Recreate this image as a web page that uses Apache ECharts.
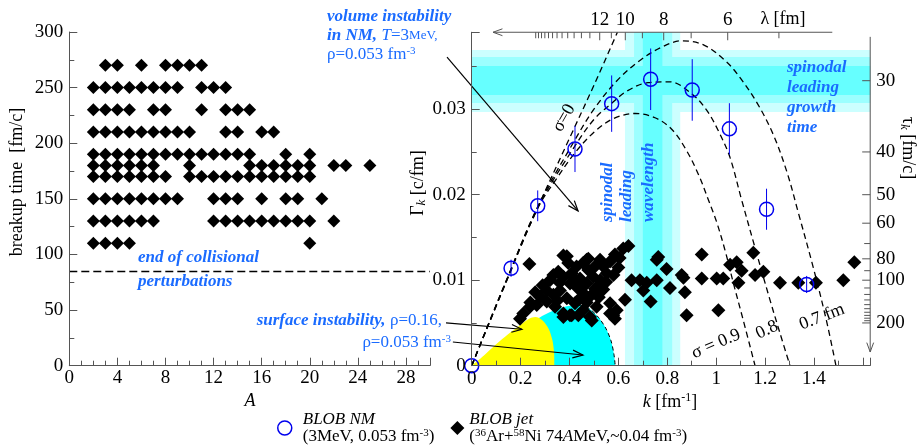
<!DOCTYPE html>
<html><head><meta charset="utf-8">
<script src="https://cdn.jsdelivr.net/npm/echarts@6/dist/echarts.min.js"></script>
<style>html,body{margin:0;padding:0;background:#fff}#c{width:918px;height:448px}</style>
</head><body><div id="c"></div>
<script>
// ---------------- data ----------------
// left panel: breakup time rows and fragment sizes A present in each row
const leftTimes = [270, 250, 230, 210, 190, 180, 170, 150, 130, 110];
const leftA = [
  [3,4,6,8,9,10,11],
  [2,3,4,5,6,7,8,9,11,12,13],
  [2,3,4,5,7,8,11,13,14,15],
  [2,3,4,5,6,7,8,9,10,13,14,16,17],
  [2,3,4,5,6,7,8,9,10,11,12,13,14,15,18,20],
  [2,3,4,5,6,7,10,15,16,17,18,19,20,22,23,25],
  [2,3,4,5,6,7,8,10,11,12,13,14,15,16,17,18,19,20],
  [2,3,4,5,6,7,8,9,12,13,14,16,18,19,21],
  [2,3,4,5,6,7,12,13,14,15,16,17,18,19,20,22],
  [2,3,4,5,20]
];
const collisionEnd = 85;

// right panel: BLOB NM growth rates
const nmK   = [0, 0.161, 0.27, 0.4225, 0.5725, 0.732, 0.902, 1.054, 1.206, 1.37];
const nmG   = [0, 0.0114, 0.0187, 0.02535, 0.03065, 0.0335, 0.03225, 0.0277, 0.0183, 0.0095];
const nmErr = [0, 0.001, 0.0018, 0.0027, 0.0033, 0.0036, 0.0036, 0.003, 0.0024, 0.001];

// right panel: BLOB jet (k, Gamma)
const jetRight = [
  [0.236,0.0119],[0.375,0.0129],[0.389,0.0128],[0.395,0.0120],[0.456,0.0120],[0.477,0.0125],[0.470,0.0124],
  [0.620,0.0137],[0.641,0.0140],[0.586,0.0130],[0.566,0.0122],[0.538,0.0116],[0.525,0.0124],[0.504,0.0116],
  [0.477,0.0112],[0.429,0.0116],[0.409,0.0108],[0.354,0.0110],[0.334,0.0106],[0.375,0.0104],[0.443,0.0102],
  [0.470,0.0096],[0.497,0.0104],[0.525,0.0100],[0.552,0.0108],[0.504,0.0090],[0.484,0.0081],[0.456,0.0085],
  [0.429,0.0092],[0.402,0.0096],[0.361,0.0088],[0.334,0.0083],[0.320,0.0100],[0.307,0.0088],[0.389,0.0079],
  [0.4225,0.0073],[0.456,0.0065],[0.484,0.0057],[0.436,0.0059],[0.402,0.0059],[0.375,0.0061],[0.341,0.0069],
  [0.307,0.0075],[0.279,0.0081],[0.266,0.0071],[0.2385,0.0069],[0.240,0.0074],[0.211,0.0061],[0.1975,0.0055],
  [0.375,0.0057],[0.409,0.0059],[0.491,0.0053],[0.511,0.0069],[0.538,0.0089],[0.566,0.0073],[0.566,0.0061],
  [0.593,0.0065],[0.579,0.0059],[0.586,0.0055],
  [0.36,0.0097],[0.42,0.0101],[0.45,0.0093],[0.52,0.0094],[0.55,0.0098],[0.58,0.0106],[0.60,0.0115],
  [0.605,0.0126],[0.44,0.0078],[0.47,0.0074],[0.52,0.0080],[0.35,0.0076],[0.29,0.0094],[0.26,0.0086],
  [0.627,0.0077],[0.654,0.0100],[0.688,0.0100],[0.702,0.0088],[0.716,0.0097],[0.732,0.0075],[0.757,0.0100],
  [0.757,0.0124],[0.763,0.0127],[0.797,0.0113],[0.811,0.0091],[0.859,0.0106],[0.866,0.0103],[0.872,0.0086],
  [0.879,0.0059],
  [0.941,0.0130],[0.941,0.0102],[1.002,0.0102],[1.029,0.0102],[1.009,0.0065],[1.057,0.0118],[1.084,0.0121],
  [1.104,0.0111],[1.091,0.0097],[1.152,0.0132],[1.159,0.0106],[1.193,0.0110],[1.261,0.0097],[1.336,0.0097],
  [1.408,0.0097],[1.52,0.0100],[1.565,0.0121]
];

// dispersion curves Gamma(k)
const sigma0  = [[0,0],[0.08,0.0057],[0.161,0.0113],[0.27,0.0185],[0.4,0.0266],[0.5,0.0328],[0.596,0.039]];
const sigma07 = [[0,0],[0.14,0.0098],[0.27,0.0186],[0.42,0.0263],[0.5,0.0300],[0.593,0.0333],[0.688,0.0357],
  [0.78,0.0373],[0.859,0.0380],[0.95,0.0375],[1.04,0.0356],[1.10,0.0336],[1.17,0.0306],[1.234,0.0270],
  [1.29,0.0226],[1.335,0.0180],[1.397,0.0115],[1.45,0.0054],[1.49,0]];
const sigma08 = [[0,0],[0.14,0.0098],[0.27,0.0185],[0.42,0.0256],[0.5,0.0288],[0.5725,0.0307],[0.634,0.0321],
  [0.72,0.0331],[0.811,0.0332],[0.9,0.0318],[0.961,0.0299],[1.01,0.0274],[1.056,0.0244],[1.104,0.0194],
  [1.16,0.0137],[1.22,0.0077],[1.26,0.0039],[1.302,0]];
const sigma09 = [[0,0],[0.14,0.0097],[0.27,0.0184],[0.35,0.0220],[0.4225,0.0249],[0.5,0.0273],[0.58,0.0289],
  [0.668,0.0295],[0.75,0.0290],[0.82,0.0276],[0.88,0.0251],[0.93,0.0222],[0.968,0.0194],[1.002,0.0168],
  [1.04,0.0131],[1.07,0.0097],[1.11,0.0054],[1.159,0]];
// surface instability regions
const surfYellow = [[0,0],[0.05,0.0012],[0.1,0.0025],[0.15,0.0037],[0.2,0.0048],[0.235,0.0055],[0.26,0.0057],
  [0.29,0.0053],[0.315,0.0043],[0.33,0.0030],[0.337,0.0015],[0.338,0]];
const surfCyan = [[0,0],[0.1,0.0021],[0.2,0.0042],[0.3,0.0060],[0.38,0.0069],[0.44,0.0071],[0.48,0.0067],
  [0.52,0.0056],[0.55,0.0043],[0.57,0.0029],[0.582,0.0013],[0.587,0]];

// spinodal leading bands: wavelength (k range) and growth time (Gamma range), light -> dark
const bandK = [[0.627,0.853],[0.664,0.82],[0.70,0.78]];
const bandG = [[0.02967,0.03692],[0.03073,0.0361],[0.03167,0.03505]];

// secondary axes tick labels
const tauMajor = [30, 40, 50, 60, 80, 100, 200];
const tauMinor = [70, 90, 110, 120, 130, 140, 150, 160, 170, 180, 190];
const tauAxisEnds = [26, 625];
const lambdaMajor = [12, 10, 8, 6];
const lambdaMinor = [24,23,22,21,20,19,18,17,16,15,14,13,11,9,7,5];
const lambdaAxisEnds = [72, 4.26];

// annotation arrows [k1, G1, k2, G2]
const arrows = [
  [-0.101, 0.0361, 0.435, 0.0181],
  [-0.105, 0.0050, 0.2053, 0.00426],
  [-0.077, 0.00277, 0.455, 0.00125]
];

// ---------------- chart ----------------
const XMAX = 1.63, YMAX = 0.039;
const SERIF = 'Liberation Serif';
const BLUE = '#1a6bff';
const NMBLUE = '#0000ee';
const AX = '#555';

function st(o){ const r = Object.assign({fontFamily: SERIF}, o); if (o.fill) r.color = o.fill; return r; }
function richSet(color, size, lh){
  return {
    bi: st({fontSize:size, fontStyle:'italic', fontWeight:'bold', fill:color, lineHeight:lh}),
    it: st({fontSize:size, fontStyle:'italic', fill:color, lineHeight:lh}),
    i: st({fontSize:size, fontStyle:'italic', fill:color, lineHeight:lh}),
    n:  st({fontSize:size, fill:color, lineHeight:lh}),
    sm: st({fontSize:size-4, fill:color, lineHeight:lh}),
    sub: st({fontSize:size-5, fontStyle:'italic', fill:color, lineHeight:12, verticalAlign:'bottom'}),
    sup: st({fontSize:size-6, fill:color, lineHeight:10, verticalAlign:'top'})
  };
}
const rB19 = richSet(BLUE, 17, 19);
const rB24 = richSet(BLUE, 17, 24);
const rB20 = richSet(BLUE, 17, 20);
const rK = richSet('#000', 18, 20);

function txt(x, y, text, rich, opt){
  opt = opt || {};
  return {type:'text', x:x, y:y, rotation: opt.rot || 0, z:100, silent:true,
    style:{text:text, rich:rich, fill: opt.fill || '#000', fontFamily:SERIF, fontSize:18,
      align: opt.align || 'left', verticalAlign: opt.va || 'top',
      textAlign: opt.align || 'left', textVerticalAlign: opt.va || 'top'}};
}

const jetLeft = [];
leftTimes.forEach((t, i) => leftA[i].forEach(a => jetLeft.push([a, t])));

const nmData = nmK.map((k, i) => [k, nmG[i]]);
const errData = nmK.map((k, i) => [k, nmG[i] - nmErr[i], nmG[i] + nmErr[i]]).filter((d, i) => nmErr[i] > 0);

const bandData = [];
for (let i = 0; i < 3; i++) {
  bandData.push([0, bandG[i][0], XMAX, bandG[i][1], i]);
  bandData.push([bandK[i][0], 0, bandK[i][1], YMAX, i]);
}
const bandColors = ['#ccffff', '#9cffff', '#66ffff'];

const tauData = tauMajor.map(t => [XMAX, 1 / t, 1, t]).concat(tauMinor.map(t => [XMAX, 1 / t, 0, t]));
const lamData = lambdaMajor.map(l => [2 * Math.PI / l, YMAX, 1, l]).concat(lambdaMinor.map(l => [2 * Math.PI / l, YMAX, 0, l]));
const secLines = [
  [XMAX, 1 / tauAxisEnds[0], XMAX, 1 / tauAxisEnds[1]],
  [2 * Math.PI / lambdaAxisEnds[1], YMAX, 2 * Math.PI / lambdaAxisEnds[0], YMAX]
];

function arrowShape(a, b, L, w){
  const ang = Math.atan2(b[1] - a[1], b[0] - a[0]);
  return [[b[0] - L * Math.cos(ang - w), b[1] - L * Math.sin(ang - w)], b,
          [b[0] - L * Math.cos(ang + w), b[1] - L * Math.sin(ang + w)]];
}

const axisLabelStyle = {color:'#000', fontFamily:SERIF, fontSize:19};
const fmt = v => String(parseFloat(v.toFixed(3)));

const curveStyle = {type:[6,4], color:'#000', width:1.3};
function curve(data){
  return {type:'line', xAxisIndex:1, yAxisIndex:1, data:data, smooth:0.35, showSymbol:false, symbol:'none',
    lineStyle:curveStyle, z:3, silent:true};
}

const option = {
  animation:false,
  backgroundColor:'#fff',
  textStyle:{fontFamily:SERIF},
  grid:[
    {left:69.3, top:32, width:360.7, height:333.7},
    {left:471.7, top:32.25, width:398.5, height:333.45}
  ],
  xAxis:[
    {type:'value', gridIndex:0, min:0, max:30, interval:4, z:10,
     axisLine:{lineStyle:{color:AX}}, axisTick:{inside:true, length:8, lineStyle:{color:AX}},
     minorTick:{show:true, splitNumber:4, length:5, lineStyle:{color:AX}},
     splitLine:{show:false}, minorSplitLine:{show:false},
     axisLabel:Object.assign({margin:3, formatter:v => v >= 30 ? '' : String(v)}, axisLabelStyle)},
    {type:'value', gridIndex:1, min:0, max:XMAX, interval:0.2, z:10,
     axisLine:{lineStyle:{color:AX}}, axisTick:{inside:true, length:8, lineStyle:{color:AX}},
     minorTick:{show:true, splitNumber:2, length:5, lineStyle:{color:AX}},
     splitLine:{show:false}, minorSplitLine:{show:false},
     axisLabel:Object.assign({margin:4, formatter:v => v > 1.5 ? '' : fmt(v)}, axisLabelStyle)}
  ],
  yAxis:[
    {type:'value', gridIndex:0, min:0, max:300, interval:50, z:10,
     axisLine:{show:true, lineStyle:{color:AX}}, axisTick:{show:true, inside:true, length:8, lineStyle:{color:AX}},
     minorTick:{show:true, splitNumber:2, length:5, lineStyle:{color:AX}},
     splitLine:{show:false}, minorSplitLine:{show:false},
     axisLabel:Object.assign({margin:6}, axisLabelStyle)},
    {type:'value', gridIndex:1, min:0, max:YMAX, interval:0.01, z:10,
     axisLine:{show:true, lineStyle:{color:AX}}, axisTick:{show:true, inside:true, length:8, lineStyle:{color:AX}},
     minorTick:{show:true, splitNumber:2, length:5, lineStyle:{color:AX}},
     splitLine:{show:false}, minorSplitLine:{show:false},
     axisLabel:Object.assign({margin:6, formatter:v => v > 0.035 ? '' : fmt(v)}, axisLabelStyle)}
  ],
  legend:{
    left:277, top:411, padding:0, orient:'horizontal', itemWidth:14, itemHeight:14, itemGap:16, selectedMode:false,
    data:[
      {name:'BLOB NM', icon:'circle', itemStyle:{color:'rgba(0,0,0,0)', borderColor:NMBLUE, borderWidth:1.5}},
      {name:'BLOB jet', icon:'diamond', itemStyle:{color:'#000', opacity:1}, textStyle:{padding:0}}
    ],
    formatter: name => name === 'BLOB NM'
      ? '{i|BLOB NM}\n{n|(3MeV, 0.053 fm}{sup|-3}{n|)}'
      : '{i|BLOB jet}\n{n|(}{sup|36}{n|Ar+}{sup|58}{n|Ni 74}{i|A}{n|MeV,~0.04 fm}{sup|-3}{n|)}',
    textStyle:{fontFamily:SERIF, fontSize:17, color:'#000', padding:[0,0,0,6], rich:{
      i:st({fontSize:17, fontStyle:'italic', fill:'#000', lineHeight:17}),
      n:st({fontSize:17, fill:'#000', lineHeight:17}),
      sup:st({fontSize:11, fill:'#000', lineHeight:9, verticalAlign:'top'})
    }}
  },
  series:[
    {name:'BLOB jet', type:'scatter', xAxisIndex:0, yAxisIndex:0, data:jetLeft, symbol:'diamond', symbolSize:13,
     itemStyle:{color:'#000', opacity:1}, z:4, silent:true,
     markLine:{silent:true, symbol:['none','none'], label:{show:false},
       lineStyle:{type:[8,4], color:'#000', width:1.4}, data:[{yAxis:collisionEnd}]}},
    {name:'bands', type:'custom', xAxisIndex:1, yAxisIndex:1, data:bandData, z:1, silent:true, clip:true,
     encode:{x:[0,2], y:[1,3]},
     renderItem:(params, api) => {
       const p1 = api.coord([api.value(0), api.value(3)]);
       const p2 = api.coord([api.value(2), api.value(1)]);
       return {type:'rect', shape:{x:p1[0], y:p1[1], width:p2[0]-p1[0], height:p2[1]-p1[1]},
         style:{fill:bandColors[api.value(4)]}};
     }},
    {name:'surfCyan', type:'line', xAxisIndex:1, yAxisIndex:1, data:surfCyan, smooth:0.3, showSymbol:false, symbol:'none',
     lineStyle:{width:0}, areaStyle:{color:'#00ffff', opacity:1}, z:2, silent:true},
    {name:'surfYellow', type:'line', xAxisIndex:1, yAxisIndex:1, data:surfYellow, smooth:0.3, showSymbol:false, symbol:'none',
     lineStyle:{width:0}, areaStyle:{color:'#ffff00', opacity:1}, z:2, silent:true},
    {name:'cyanEdge', type:'line', xAxisIndex:1, yAxisIndex:1, data:surfCyan.filter(p => p[0] >= 0.44), smooth:0.3,
     showSymbol:false, symbol:'none', lineStyle:{type:[4,3], color:'#000', width:1}, z:2, silent:true},
    curve(sigma0), curve(sigma07), curve(sigma08), curve(sigma09),
    {name:'BLOB jet', type:'scatter', xAxisIndex:1, yAxisIndex:1, data:jetRight, symbol:'diamond', symbolSize:14,
     itemStyle:{color:'#000', opacity:1}, z:4, silent:true},
    {name:'BLOB NM', type:'scatter', xAxisIndex:1, yAxisIndex:1, data:nmData, symbol:'circle', symbolSize:14,
     itemStyle:{color:'rgba(0,0,0,0)', borderColor:NMBLUE, borderWidth:1.5, opacity:1}, z:6, silent:true},
    {name:'errbars', type:'custom', xAxisIndex:1, yAxisIndex:1, data:errData, z:6, silent:true, clip:false,
     encode:{x:0, y:[1,2]},
     renderItem:(params, api) => {
       const a = api.coord([api.value(0), api.value(1)]);
       const b = api.coord([api.value(0), api.value(2)]);
       return {type:'line', shape:{x1:a[0], y1:a[1], x2:b[0], y2:b[1]}, style:{stroke:NMBLUE, lineWidth:1}};
     }},
    {name:'arrows', type:'custom', xAxisIndex:1, yAxisIndex:1, data:arrows, z:7, silent:true, clip:false,
     encode:{x:[0,2], y:[1,3]},
     renderItem:(params, api) => {
       const a = api.coord([api.value(0), api.value(1)]);
       const b = api.coord([api.value(2), api.value(3)]);
       return {type:'group', children:[
         {type:'line', shape:{x1:a[0], y1:a[1], x2:b[0], y2:b[1]}, style:{stroke:'#000', lineWidth:1.2}},
         {type:'polyline', shape:{points:arrowShape(a, b, 11, 0.36)}, style:{stroke:'#000', fill:null, lineWidth:1.2}}
       ]};
     }},
    {name:'tauAxis', type:'custom', xAxisIndex:1, yAxisIndex:1, data:tauData, z:10, silent:true, clip:false,
     encode:{x:0, y:1},
     renderItem:(params, api) => {
       const p = api.coord([api.value(0), api.value(1)]);
       const major = api.value(2) === 1;
       const len = major ? 8 : 6;
       const ch = [{type:'line', shape:{x1:p[0]-len, y1:p[1], x2:p[0], y2:p[1]}, style:{stroke:AX, lineWidth:1}}];
       if (major) ch.push({type:'text', x:p[0]+6, y:p[1], style:{text:String(api.value(3)), fill:'#000',
         fontFamily:SERIF, fontSize:19, align:'left', verticalAlign:'middle', textAlign:'left', textVerticalAlign:'middle'}});
       return {type:'group', children:ch};
     }},
    {name:'lambdaAxis', type:'custom', xAxisIndex:1, yAxisIndex:1, data:lamData, z:10, silent:true, clip:false,
     encode:{x:0, y:1},
     renderItem:(params, api) => {
       const p = api.coord([api.value(0), api.value(1)]);
       const major = api.value(2) === 1;
       const len = major ? 8 : 6;
       const ch = [{type:'line', shape:{x1:p[0], y1:p[1], x2:p[0], y2:p[1]+len}, style:{stroke:AX, lineWidth:1}}];
       if (major) ch.push({type:'text', x:p[0], y:p[1]-3, style:{text:String(api.value(3)), fill:'#000',
         fontFamily:SERIF, fontSize:19, align:'center', verticalAlign:'bottom', textAlign:'center', textVerticalAlign:'bottom'}});
       return {type:'group', children:ch};
     }},
    {name:'secLines', type:'custom', xAxisIndex:1, yAxisIndex:1, data:secLines, z:10, silent:true, clip:false,
     encode:{x:[0,2], y:[1,3]},
     renderItem:(params, api) => {
       const a = api.coord([api.value(0), api.value(1)]);
       const b = api.coord([api.value(2), api.value(3)]);
       return {type:'group', children:[
         {type:'line', shape:{x1:a[0], y1:a[1], x2:b[0], y2:b[1]}, style:{stroke:AX, lineWidth:1}},
         {type:'polyline', shape:{points:arrowShape(a, b, 10, 0.35)}, style:{stroke:AX, fill:null, lineWidth:1}}
       ]};
     }}
  ],
  graphic:[
    txt(327, 7.5, '{bi|volume instability}\n{bi|in NM,} {it|T}{n|=3}{sm|MeV,}\n{n|ρ=0.053 fm}{sup|-3}', rB19, {fill:BLUE}),
    txt(138, 246, '{bi|end of collisional}\n{bi|perturbations}', rB24, {fill:BLUE}),
    txt(442, 321, '{bi|surface instability,} {n|ρ=0.16,}', rB19, {fill:BLUE, align:'right', va:'middle'}),
    txt(451, 343, '{n|ρ=0.053 fm}{sup|-3}', rB19, {fill:BLUE, align:'right', va:'middle'}),
    txt(787, 58, '{bi|spinodal}\n{bi|leading}\n{bi|growth}\n{bi|time}', rB20, {fill:BLUE}),
    txt(608, 222, '{bi|spinodal}', rB19, {fill:BLUE, va:'middle', rot:Math.PI/2}),
    txt(627, 222, '{bi|leading}', rB19, {fill:BLUE, va:'middle', rot:Math.PI/2}),
    txt(649, 222, '{bi|wavelength}', rB19, {fill:BLUE, va:'middle', rot:Math.PI/2}),
    txt(564, 118, '{n|σ=0}', rK, {align:'center', va:'middle', rot:60*Math.PI/180}),
    txt(716, 344, '{n|σ = 0.9}', rK, {align:'center', va:'middle', rot:23*Math.PI/180}),
    txt(767, 330, '{n|0.8}', rK, {align:'center', va:'middle', rot:25*Math.PI/180}),
    txt(822, 317, '{n|0.7 fm}', rK, {align:'center', va:'middle', rot:21*Math.PI/180}),
    txt(17, 182, '{n|breakup time  [fm/c]}', rK, {align:'center', va:'middle', rot:Math.PI/2}),
    txt(250, 401, '{i|A}', rK, {align:'center', va:'middle'}),
    txt(670, 402, '{i|k} {n|[fm}{sup|-1}{n|]}', rK, {align:'center', va:'middle'}),
    txt(418, 183, '{n|Γ}{sub|k}{n| [c/fm]}', rK, {align:'center', va:'middle', rot:Math.PI/2}),
    txt(908, 148, '{n|τ}{sub|k}{n| [fm/c]}', rK, {align:'center', va:'middle', rot:-Math.PI/2}),
    txt(783, 29, '{n|λ [fm]}', rK, {align:'center', va:'bottom'})
  ]
};

const chart = echarts.init(document.getElementById('c'), null, {renderer:'canvas'});
chart.setOption(option);
</script>
</body></html>
